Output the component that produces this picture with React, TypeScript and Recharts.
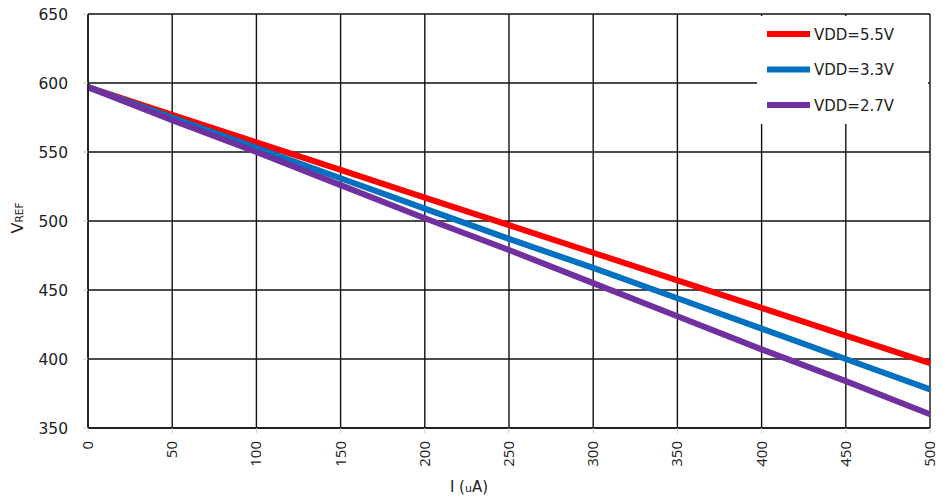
import { CartesianGrid, Line, LineChart, XAxis, YAxis } from 'recharts';

const currents = [0, 50, 100, 150, 200, 250, 300, 350, 400, 450, 500];
const vdd55 = [597, 577, 557, 537, 517, 497, 477, 457, 437, 417, 397];
const vdd33 = [597, 575, 553, 531, 509, 487, 466, 444, 422, 400, 378];
const vdd27 = [597, 573, 550, 526, 502, 479, 455, 431, 407, 384, 360];
const xTicks = [0, 50, 100, 150, 200, 250, 300, 350, 400, 450, 500];
const yTicks = [350, 400, 450, 500, 550, 600, 650];

const series = [
  { key: 'v55', name: 'VDD=5.5V', color: '#FF0000' },
  { key: 'v33', name: 'VDD=3.3V', color: '#0070C0' },
  { key: 'v27', name: 'VDD=2.7V', color: '#7030A0' },
];

const data = currents.map((c, i) => ({ i: c, v55: vdd55[i], v33: vdd33[i], v27: vdd27[i] }));

const FONT = '"DejaVu Sans", sans-serif';
const XFONT = '"Open Sans", sans-serif';

const XTick = (props: any) => {
  const { x, y, payload } = props;
  return (
    <text x={x} y={y} transform={`rotate(-90 ${x} ${y})`} textAnchor="end" dy={5}
      fontSize={15} fill="#222" fontFamily={XFONT}>
      {payload.value}
    </text>
  );
};

export default function App() {
  return (
    <div style={{ position: 'absolute', left: 0, top: 0, width: 943, height: 499, background: '#fff' }}>
      <LineChart width={943} height={499} data={data}
        margin={{ top: 14, right: 13, bottom: 0, left: 0 }}>
        <CartesianGrid stroke="#111" strokeWidth={1.4} />
        <XAxis dataKey="i" type="number" domain={[0, 500]} ticks={xTicks}
          height={71} tick={<XTick />} tickSize={5} tickMargin={8}
          axisLine={{ stroke: '#111', strokeWidth: 1.4 }} tickLine={{ stroke: '#ccc' }} />
        <YAxis type="number" domain={[350, 650]} ticks={yTicks} width={88}
          tickSize={5} tickMargin={15} axisLine={{ stroke: '#111', strokeWidth: 1.4 }}
          tickLine={{ stroke: '#ccc' }}
          tick={{ fontSize: 15.5, fill: '#222', fontFamily: FONT }} />
        {series.map((s) => (
          <Line key={s.key} dataKey={s.key} name={s.name} stroke={s.color} strokeWidth={6}
            dot={false} isAnimationActive={false} type="linear" />
        ))}
        <text x={469} y={492} textAnchor="middle" fontSize={15} fill="#222" fontFamily={FONT}>
          I (<tspan fontSize={11}>u</tspan>A)
        </text>
        <text x={23} y={218} transform="rotate(-90 23 218)" textAnchor="middle" fontSize={16}
          fill="#222" fontFamily={FONT}>
          V<tspan fontSize={10.5}>REF</tspan>
        </text>
        <rect x={757} y={16} width={171} height={108} fill="#fff" />
        {series.map((s, k) => (
          <g key={s.key}>
            <line x1={767} x2={810} y1={34 + k * 35.5} y2={34 + k * 35.5} stroke={s.color} strokeWidth={6} />
            <text x={814} y={34 + k * 35.5} dy={5.5} fontSize={15} fill="#222" fontFamily={FONT}>
              {s.name}
            </text>
          </g>
        ))}
      </LineChart>
    </div>
  );
}
